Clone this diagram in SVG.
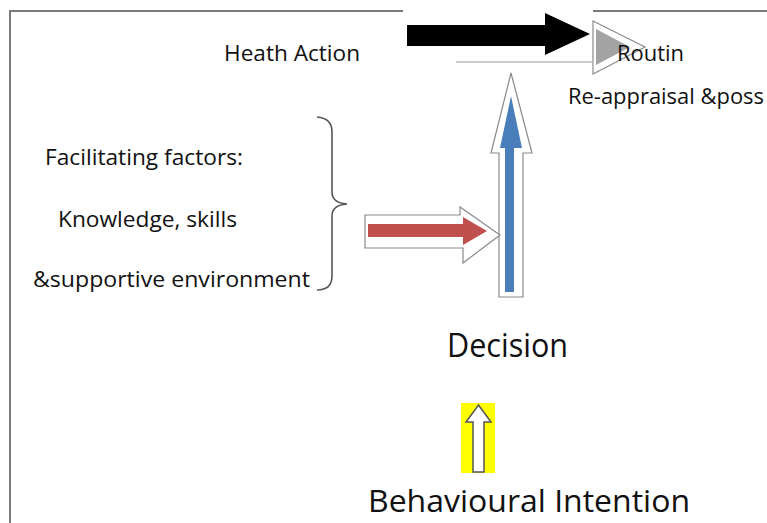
<svg xmlns="http://www.w3.org/2000/svg" width="767" height="523" viewBox="0 0 767 523">
<style>
text{font-family:"Open Sans","Liberation Sans",sans-serif;fill:#111}
.s{font-size:21px}
.frame{stroke:#7a7a7a;stroke-width:2;fill:none}
.outl{fill:#fff;stroke:#8a8a8a;stroke-width:1.2}
</style>
<rect width="767" height="523" fill="#fff"/>
<g id="frame">
<path class="frame" d="M10,523 V11 H767"/>
<rect x="403" y="9" width="190" height="53" fill="#fff"/>
<line x1="456" y1="62" x2="592" y2="62" stroke="#999" stroke-width="1.2"/>
</g>
<g id="connectors">
<polygon id="black-arrow" points="407,25 545,25 545,13 590,34 545,55 545,46 407,46" fill="#000"/>
<g id="gray-arrowhead">
<polygon class="outl" points="593,21 645,47 593,74"/>
<polygon points="596,29 630,47 596,65" fill="#a3a3a3"/>
</g>
<g id="blue-arrow">
<polygon class="outl" points="499,297 499,153 491,153 511,73 532,153 523,153 523,297"/>
<polygon points="505,292 505,148 500,148 511,96 522,148 514,148 514,292" fill="#4a7ebb"/>
</g>
<g id="red-arrow">
<polygon class="outl" points="365,215 460,215 460,207 500,235 463,263 463,248 365,248"/>
<polygon points="368,224 463,224 463,217 487,231 463,245 463,237 368,237" fill="#c0504d"/>
</g>
<path id="brace" d="M317,117 Q332,118 332,132 V192 Q332,203 347,204 Q332,205 332,216 V276 Q332,290 317,290" fill="none" stroke="#555" stroke-width="1.6"/>
</g>
<g id="intention-arrow">
<rect x="461" y="403" width="34" height="70" fill="#ffff00"/>
<polygon points="473,472 473,422 466,422 478.5,405 491,422 484,422 484,472" fill="#fff" stroke="#555" stroke-width="1.5"/>
</g>
<g id="n-heath"><text class="s" x="224" y="61" textLength="136" lengthAdjust="spacingAndGlyphs">Heath Action</text></g>
<g id="n-routin"><text class="s" x="617" y="61" textLength="67" lengthAdjust="spacingAndGlyphs">Routin</text></g>
<g id="n-reappraisal"><text class="s" x="568" y="104" textLength="196" lengthAdjust="spacingAndGlyphs">Re-appraisal &amp;poss</text></g>
<g id="n-facilitating">
<text class="s" x="45" y="165" textLength="198" lengthAdjust="spacingAndGlyphs">Facilitating factors:</text>
<text class="s" x="58" y="227" textLength="179" lengthAdjust="spacingAndGlyphs">Knowledge, skills</text>
<text class="s" x="33" y="287" textLength="277" lengthAdjust="spacingAndGlyphs">&amp;supportive environment</text>
</g>
<g id="n-decision"><text x="447" y="357" font-size="33" textLength="121" lengthAdjust="spacingAndGlyphs">Decision</text></g>
<g id="n-intention"><text x="368" y="512" font-size="31" textLength="322" lengthAdjust="spacingAndGlyphs">Behavioural Intention</text></g>
</svg>
